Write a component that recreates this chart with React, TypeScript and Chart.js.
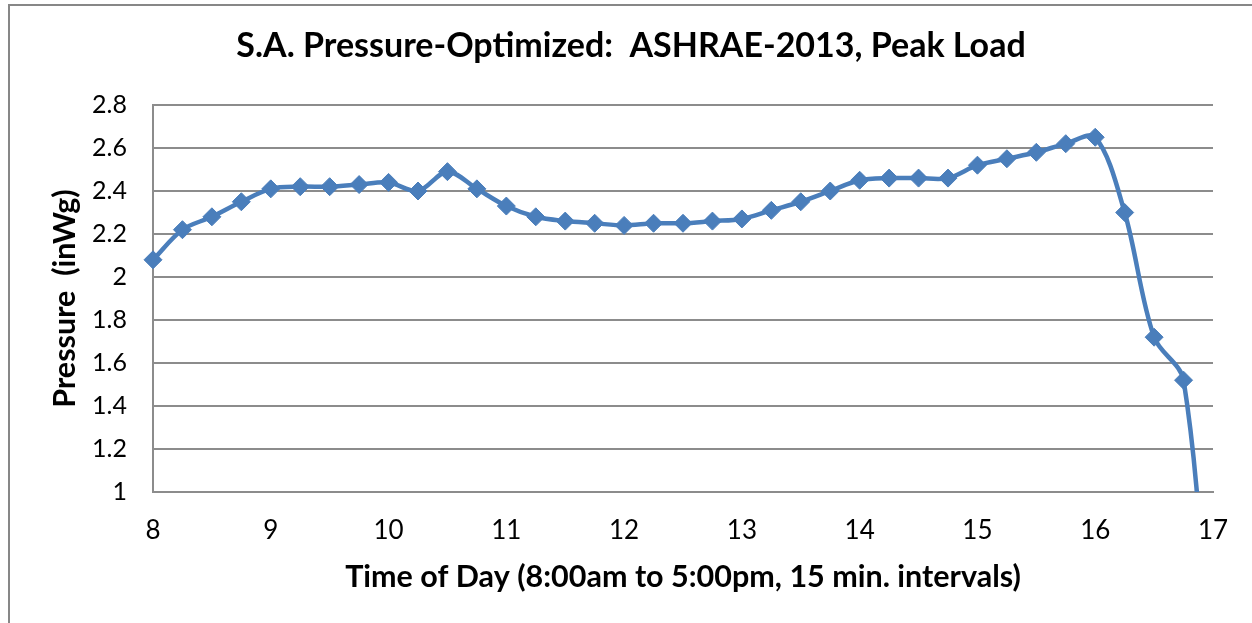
import React, { useEffect, useRef } from "react";
import { Chart, registerables } from "chart.js";

Chart.register(...registerables);

const timeOfDay: number[] = [
  8, 8.25, 8.5, 8.75, 9, 9.25, 9.5, 9.75, 10, 10.25, 10.5, 10.75,
  11, 11.25, 11.5, 11.75, 12, 12.25, 12.5, 12.75, 13, 13.25, 13.5, 13.75,
  14, 14.25, 14.5, 14.75, 15, 15.25, 15.5, 15.75, 16, 16.25, 16.5, 16.75, 17,
];

const pressure: number[] = [
  2.08, 2.22, 2.28, 2.35, 2.41, 2.42, 2.42, 2.43, 2.44, 2.4, 2.49, 2.41,
  2.33, 2.28, 2.26, 2.25, 2.24, 2.25, 2.25, 2.26, 2.27, 2.31, 2.35, 2.4,
  2.45, 2.46, 2.46, 2.46, 2.52, 2.55, 2.58, 2.62, 2.65, 2.3, 1.72, 1.52, 0,
];

const titleText = "S.A. Pressure-Optimized:  ASHRAE-2013, Peak Load";
const xTitle = "Time of Day (8:00am to 5:00pm, 15 min. intervals)";
const yTitle = "Pressure  (inWg)";

const FONT = "Lato, Carlito, 'Liberation Sans', sans-serif";
const LINE_COLOR = "#4A7EBB";
const GRID_COLOR = "#8c8c8c";

export default function App() {
  const canvasRef = useRef<HTMLCanvasElement | null>(null);

  useEffect(() => {
    const canvas = canvasRef.current;
    if (!canvas) return;
    const chart = new Chart(canvas, {
      type: "line",
      data: {
        datasets: [
          {
            data: timeOfDay.map((t, i) => ({ x: t, y: pressure[i] })),
            borderColor: LINE_COLOR,
            backgroundColor: LINE_COLOR,
            borderWidth: 4.5,
            pointStyle: "rectRot",
            pointRadius: 9,
            pointBorderWidth: 1,
            pointBackgroundColor: LINE_COLOR,
            pointBorderColor: LINE_COLOR,
            tension: 0.33,
            capBezierPoints: false,
            clip: { left: 14, top: 14, right: 14, bottom: 0 },
          } as any,
        ],
      },
      options: {
        responsive: false,
        animation: false,
        events: [],
        layout: { padding: 0 },
        plugins: {
          legend: { display: false },
          tooltip: { enabled: false },
          title: {
            display: true,
            text: titleText,
            color: "#000",
            font: { family: FONT, size: 34, weight: "bold", lineHeight: 1.2 },
            padding: { top: 19.6, bottom: 38.6 },
          },
        },
        scales: {
          x: {
            type: "linear",
            min: 8,
            max: 17,
            afterFit: (scale: any) => {
              scale.height = 131;
              scale.paddingRight = 39;
            },
            ticks: {
              stepSize: 1,
              color: "#000",
              padding: 23,
              font: { family: FONT, size: 26 },
            },
            grid: { display: false, drawTicks: false },
            border: { display: true, color: GRID_COLOR, width: 2 },
            title: {
              display: true,
              text: xTitle,
              color: "#000",
              font: { family: FONT, size: 30.5, weight: "bold", lineHeight: 1.2 },
              padding: { top: 0, bottom: 28 },
            },
          },
          y: {
            type: "linear",
            min: 1,
            max: 2.8,
            afterFit: (scale: any) => {
              scale.width = 143;
            },
            ticks: {
              stepSize: 0.2,
              color: "#000",
              padding: 26,
              font: { family: FONT, size: 25 },
              callback: (v: any) => String(Math.round(Number(v) * 10) / 10),
            },
            grid: { display: true, color: GRID_COLOR, lineWidth: 2, drawTicks: false },
            border: { display: true, color: GRID_COLOR, width: 2 },
            title: {
              display: true,
              text: yTitle,
              color: "#000",
              font: { family: FONT, size: 30.5, weight: "bold", lineHeight: 1.2 },
              padding: { top: 37, bottom: 0 },
            },
          },
        },
      },
    });
    return () => chart.destroy();
  }, []);

  return (
    <div
      style={{
        position: "fixed",
        left: 8,
        top: 4,
        width: 1300,
        height: 700,
        borderLeft: "2px solid #878787",
        borderTop: "2px solid #878787",
        background: "#fff",
      }}
    >
      <canvas
        ref={canvasRef}
        width={1242}
        height={617}
        style={{ position: "absolute", left: 0, top: 0, width: 1242, height: 617 }}
      />
    </div>
  );
}
